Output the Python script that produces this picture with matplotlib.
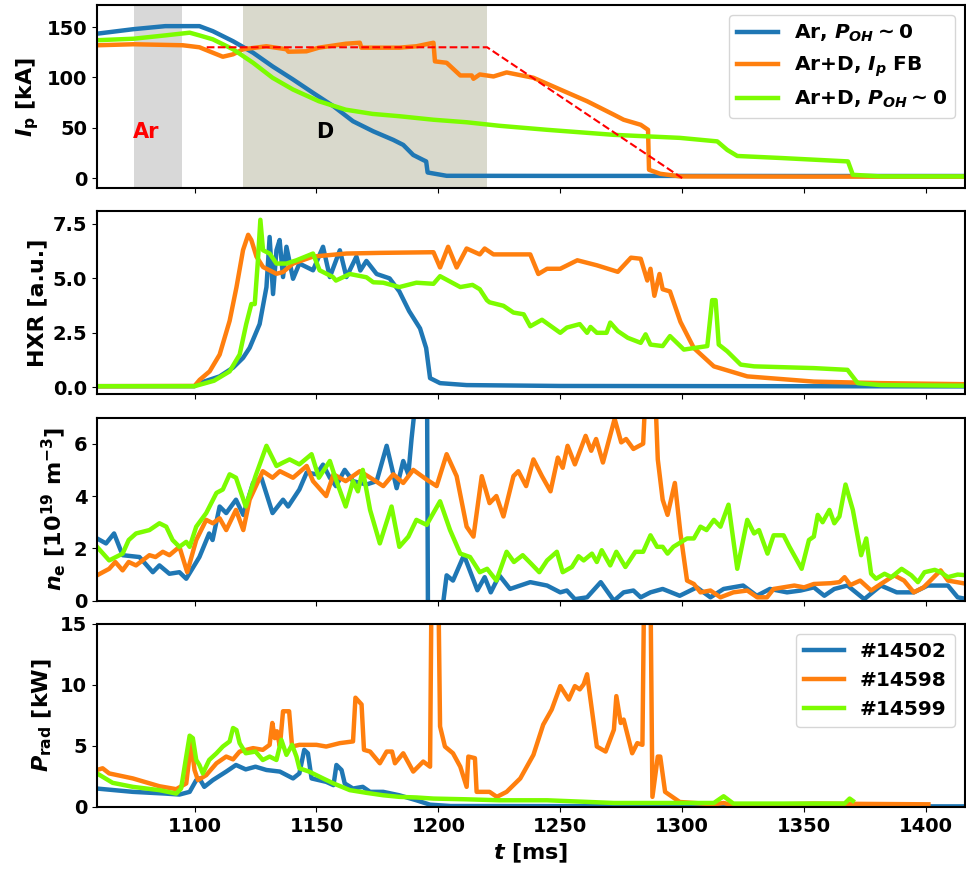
import numpy as np
import matplotlib
matplotlib.use("Agg")
import matplotlib.pyplot as plt

# shot numbers and legend labels
shots = ["#14502", "#14598", "#14599"]
scenario_labels = [r"Ar, $P_{OH}\sim0$", r"Ar+D, $I_p$ FB", r"Ar+D, $P_{OH}\sim0$"]
colors = ["#1f77b4", "#ff7f0e", "lawngreen"]

# gas puff windows [ms]
ar_puff = (1075, 1095)
d_puff = (1120, 1220)

# plasma current [kA], (t [ms], Ip)
ip_14502 = [(1060, 143.5), (1075, 148), (1088, 151), (1102, 151), (1107.5, 146), (1115.8, 136),
            (1124, 124.6), (1132, 111), (1140.4, 98), (1148.6, 84.7), (1157, 71.4), (1165, 56.5),
            (1173.3, 46.5), (1181.5, 38), (1185.6, 33), (1189.7, 23), (1193.8, 18), (1195, 16.6),
            (1195.6, 5.6), (1203.4, 2.3), (1250, 2.2), (1300, 2.2), (1350, 2.1), (1417, 2.1)]
ip_14598 = [(1060, 132), (1075, 133), (1095.2, 132), (1102, 130), (1107.5, 124.6), (1111.6, 120.6),
            (1115.8, 123), (1119.9, 128), (1129.5, 131), (1137.7, 128), (1138.5, 125.6), (1145.9, 126),
            (1151, 129.6), (1162, 133.5), (1167.8, 134.5), (1168.4, 129.6), (1184, 129.6), (1191, 131),
            (1198, 134.5), (1198.6, 116), (1203.4, 114.6), (1209, 102), (1213.7, 102), (1214.4, 98.7),
            (1217, 103), (1222.6, 101), (1228, 105), (1239, 99.7), (1250, 88), (1261, 76.4),
            (1272, 63), (1276, 58), (1283, 53), (1286, 48), (1286.4, 8.3), (1291, 4.3),
            (1299.3, 1.7), (1350, 1.5), (1417, 1.5)]
ip_14599 = [(1060, 137), (1075, 138.5), (1088, 141.8), (1098, 144.5), (1102, 141.8), (1107.5, 137.9),
            (1115.8, 128), (1124, 114.6), (1132, 99.7), (1140.4, 88), (1151, 76.4), (1162, 68),
            (1173, 63.8), (1184, 61.5), (1198, 58), (1211.6, 55.5), (1225, 52), (1244.6, 48),
            (1272, 43), (1299, 40), (1314.4, 36.5), (1318.5, 28), (1322.6, 22), (1340.4, 20),
            (1368, 16.6), (1370, 3.3), (1381.6, 1.7), (1417, 1.7)]
ip_request = [(1105, 130), (1220, 130), (1300, 0)]

# hard X-ray signal [a.u.]
hxr_14502 = [(1060, 0.05), (1100, 0.05), (1102, 0.19), (1110.3, 0.5), (1115.8, 0.9), (1119.9, 1.35),
             (1122.6, 1.81), (1126.7, 2.9), (1129.5, 4.6), (1130.8, 6.9), (1132.2, 4.28),
             (1133.6, 6.29), (1134.9, 6.76), (1136.3, 5.06), (1137.7, 6.45), (1140.4, 4.98),
             (1143, 5.68), (1148.6, 5.37), (1152.7, 6.45), (1155.5, 5.06), (1159.6, 6.29),
             (1162.3, 5.06), (1166.4, 6.0), (1168, 5.36), (1170.5, 5.8), (1174.7, 5.2), (1180, 5.0),
             (1184, 4.4), (1188, 3.5), (1192.5, 2.7), (1195, 1.8), (1196.6, 0.42), (1200.7, 0.19),
             (1211.6, 0.1), (1250, 0.06), (1417, 0.04)]
hxr_14598 = [(1060, 0.05), (1100, 0.06), (1102.1, 0.34), (1106.2, 0.73), (1110.3, 1.5), (1114.4, 3.05),
             (1117.2, 4.59), (1119.9, 6.3), (1122, 7.0), (1123.3, 6.76), (1125.4, 6.0), (1128.1, 5.52),
             (1133.6, 5.21), (1136.3, 5.29), (1140.4, 5.68), (1148.6, 6.0), (1162.3, 6.14),
             (1176, 6.17), (1198, 6.2), (1200.7, 5.5), (1204, 6.45), (1207.5, 5.5), (1211.6, 6.37),
             (1217, 6.1), (1219, 6.37), (1222.6, 6.1), (1237.7, 6.1), (1241, 5.2), (1244.6, 5.44),
             (1250, 5.44), (1257, 5.83), (1265, 5.6), (1273.6, 5.3), (1279, 5.95), (1283, 5.9),
             (1285.7, 4.9), (1287, 5.44), (1288.6, 4.2), (1290.7, 5.2), (1292, 4.5), (1295, 4.4),
             (1299.3, 3.0), (1304.8, 1.8), (1313, 0.96), (1326.7, 0.5), (1354, 0.26), (1381.6, 0.19),
             (1417, 0.14)]
hxr_14599 = [(1060, 0.05), (1100, 0.05), (1108, 0.3), (1114.4, 0.73), (1118.5, 1.5), (1121.2, 2.9),
             (1123.3, 3.82), (1124.7, 3.82), (1126, 5.83), (1127, 7.69), (1128.1, 6.29),
             (1130.8, 6.14), (1133.6, 5.68), (1137.7, 5.68), (1141.8, 5.83), (1148.6, 6.14),
             (1151.3, 5.37), (1156.8, 5.06), (1158, 4.9), (1163.7, 5.2), (1170.5, 5.05),
             (1173.3, 4.82), (1177.4, 4.8), (1184, 4.6), (1191, 4.8), (1198, 4.75), (1200.7, 5.1),
             (1209, 4.6), (1214, 4.7), (1217, 4.5), (1219.9, 4.0), (1221, 3.9), (1226.7, 3.74),
             (1230.8, 3.43), (1235, 3.35), (1237.7, 2.8), (1242.5, 3.1), (1250, 2.5), (1252.7, 2.74),
             (1258, 2.9), (1261, 2.5), (1262.4, 2.77), (1265, 2.5), (1269, 2.5), (1270.5, 2.97),
             (1273.6, 2.58), (1277.7, 2.27), (1283, 2.04), (1285, 2.43), (1287, 1.96), (1292, 1.89),
             (1295, 2.35), (1300.7, 1.73), (1304.8, 1.8), (1310.3, 1.89), (1312.3, 4.0),
             (1313.7, 4.0), (1315, 1.96), (1318.5, 1.65), (1324, 1.04), (1329.5, 0.96), (1354, 0.88),
             (1367.8, 0.8), (1372, 0.19), (1381.6, 0.1), (1417, 0.07)]

# line-averaged density [1e19 m^-3]
ne_14502 = [(1060, 2.38), (1063.7, 2.19), (1067, 2.57), (1070.5, 1.74), (1077.4, 1.67), (1082.9, 1.09),
            (1085.6, 1.35), (1089.7, 1.03), (1093.8, 1.09), (1096.6, 0.84), (1102, 1.67), (1106, 2.57),
            (1107.4, 2.32), (1110.3, 3.6), (1113, 3.35), (1117, 3.86), (1120, 3.28), (1124, 4.5),
            (1127.4, 4.7), (1132, 3.35), (1136.3, 3.86), (1138.4, 3.6), (1143, 4.25), (1146, 4.9),
            (1150, 4.83), (1152.7, 5.2), (1155.5, 4.7), (1158, 4.38), (1161.6, 5.0), (1165, 4.57),
            (1170.5, 4.44), (1174.7, 4.57), (1178.8, 5.92), (1182.9, 4.3), (1185.6, 5.34),
            (1187.7, 4.83), (1189, 6.18), (1190.5, 7.5), (1192, 15), (1194.6, 15), (1195.2, 12),
            (1195.8, -2), (1200, -3), (1201.4, -0.5), (1203.4, 0.97), (1206, 0.77), (1210.5, 1.74),
            (1216, 0.4), (1219, 0.9), (1221.5, 0.32), (1225, 0.97), (1229.4, 0.45), (1237.7, 0.71),
            (1244.6, 0.58), (1250, 0.32), (1252.7, 0.39), (1256, 0.06), (1261, 0.13), (1266.6, 0.71),
            (1272, 0.0), (1276, 0.32), (1280, 0.39), (1283, 0.13), (1287, 0.32), (1292, 0.45),
            (1299, 0.19), (1306, 0.51), (1311.6, 0.13), (1317, 0.45), (1325, 0.58), (1330.6, 0.19),
            (1336, 0.45), (1343, 0.32), (1348.6, 0.39), (1354, 0.51), (1358.3, 0.19), (1362.4, 0.45),
            (1367.8, 0.58), (1374.7, 0.06), (1381.5, 0.58), (1388, 0.32), (1395, 0.32),
            (1400.7, 0.58), (1409, 0.58), (1413, 0.13), (1417, 0.06)]
ne_14598 = [(1060, 0.97), (1065, 1.22), (1067.5, 1.48), (1070.5, 1.16), (1073, 1.48), (1076, 1.35),
            (1081.5, 1.74), (1084, 1.67), (1087, 1.87), (1089.7, 1.74), (1093.8, 2.06), (1097, 1.09),
            (1100.7, 2.32), (1104.8, 3.09), (1107.5, 2.96), (1110.3, 3.15), (1113, 2.7), (1117, 3.47),
            (1120, 2.7), (1122.6, 3.86), (1128, 4.95), (1132, 4.7), (1135, 4.95), (1140.4, 4.7),
            (1146, 5.15), (1148.6, 4.57), (1154, 4.0), (1157, 4.83), (1162, 4.57), (1167.8, 4.95),
            (1173.3, 4.63), (1177.4, 4.38), (1181.5, 4.83), (1185.6, 4.5), (1189.7, 5.0),
            (1195.2, 4.63), (1199.3, 4.38), (1203.4, 5.6), (1207.5, 4.76), (1211.6, 2.83),
            (1214.4, 2.45), (1217.8, 4.76), (1221, 3.73), (1223.8, 4.0), (1226.7, 3.22),
            (1230.8, 4.76), (1232.8, 4.95), (1236, 4.38), (1239, 5.4), (1242.5, 4.76), (1246, 4.18),
            (1249, 5.47), (1251, 5.08), (1253, 5.92), (1256, 5.21), (1260.4, 6.3), (1262.7, 5.73),
            (1264.7, 6.18), (1267.5, 5.28), (1272.3, 6.95), (1275, 6.05), (1277, 6.18), (1280, 5.8),
            (1284, 6.0), (1285.5, 9), (1288.5, 9), (1290, 5.4), (1292, 3.86), (1294, 3.28),
            (1297, 4.5), (1299.3, 2.57), (1302, 0.77), (1304.8, 0.64), (1307.5, 0.32), (1311.6, 0.39),
            (1315.7, 0.13), (1321, 0.32), (1326.7, 0.39), (1330.8, 0.13), (1334.8, 0.13),
            (1337.5, 0.45), (1346, 0.58), (1350, 0.51), (1354, 0.64), (1361, 0.67), (1364.5, 0.71),
            (1366.6, 0.9), (1369, 0.6), (1373, 0.77), (1377.5, 0.39), (1381.5, 0.64), (1387, 0.97),
            (1391, 0.77), (1395, 0.32), (1399, 0.51), (1406, 1.16), (1409, 0.77), (1417, 0.64)]
ne_14599 = [(1060, 2.06), (1065, 1.54), (1070.5, 1.8), (1073, 2.32), (1076, 2.57), (1081.5, 2.7),
            (1085.6, 2.96), (1088.4, 2.83), (1091, 2.32), (1093.8, 2.06), (1096.6, 2.25), (1098, 2.06),
            (1100.7, 2.83), (1104.8, 3.35), (1109, 4.12), (1111.6, 4.25), (1114.4, 4.83), (1117, 4.7),
            (1121, 3.6), (1125, 4.76), (1129.5, 5.92), (1133.6, 5.15), (1136.3, 5.28), (1139, 5.4),
            (1143, 5.21), (1148, 5.6), (1151, 4.7), (1155.5, 5.34), (1158, 4.63), (1162, 3.6),
            (1165, 4.57), (1167, 4.18), (1169, 5.0), (1172, 3.47), (1176, 2.19), (1180.8, 3.6),
            (1184, 2.06), (1187.7, 2.45), (1191, 3.09), (1195.2, 2.9), (1200.7, 3.8), (1204.8, 2.7),
            (1209, 1.8), (1213, 1.67), (1217, 1.09), (1220, 1.22), (1223.8, 0.77), (1228, 1.87),
            (1231, 1.48), (1234.6, 1.74), (1238, 1.42), (1241.4, 1.09), (1244.6, 1.54), (1248.6, 1.87),
            (1251, 1.09), (1254.8, 1.29), (1257.5, 1.7), (1259.6, 1.54), (1263, 1.8), (1265, 1.48),
            (1267, 1.93), (1270.5, 1.35), (1273, 1.87), (1276.7, 1.29), (1280.8, 1.87), (1284, 1.87),
            (1287, 2.5), (1289.7, 2.06), (1292, 2.06), (1294, 1.8), (1296.4, 2.06), (1302, 2.38),
            (1304.8, 2.38), (1307.5, 2.83), (1310, 2.7), (1313, 3.09), (1315.7, 2.83), (1319, 3.67),
            (1322.6, 1.22), (1326.7, 3.09), (1329.5, 2.57), (1331.5, 2.7), (1335, 1.8), (1337.5, 2.5),
            (1341.6, 2.5), (1344, 2.06), (1349, 1.22), (1352, 2.32), (1354, 2.45), (1355.6, 3.28),
            (1357.6, 3.0), (1360.4, 3.47), (1362.4, 2.96), (1364.5, 3.22), (1367, 4.44), (1370, 3.47),
            (1372, 2.45), (1373.4, 1.74), (1375.5, 2.38), (1377.5, 1.03), (1379.5, 0.84), (1383, 1.03),
            (1385.8, 0.9), (1390, 1.22), (1394, 0.97), (1396.7, 0.71), (1399.4, 1.09), (1403.6, 1.18),
            (1406, 1.09), (1409, 0.9), (1413, 1.0), (1417, 0.97)]

# radiated power [kW]
prad_14502 = [(1060, 1.51), (1074.7, 1.24), (1088, 1.1), (1093.8, 1.02), (1098, 1.24), (1100.7, 2.2),
              (1102, 2.34), (1104, 1.65), (1107.5, 2.2), (1113, 2.9), (1117, 3.44), (1121, 3.08),
              (1125, 3.3), (1129.5, 3.03), (1135, 2.9), (1140.4, 2.34), (1143, 2.75), (1145, 4.68),
              (1146.5, 4.4), (1148, 2.34), (1154, 2.06), (1157, 1.79), (1158.2, 3.44), (1160.3, 3.03),
              (1161.6, 1.93), (1165, 1.51), (1169, 1.65), (1172, 1.24), (1177.4, 1.24), (1184, 0.96),
              (1191, 0.55), (1196.6, 0.19), (1205, 0.08), (1417, 0.05)]
prad_14598 = [(1060, 3.03), (1062.3, 3.17), (1065, 2.75), (1074.7, 2.34), (1085.6, 1.7), (1092.5, 1.46),
              (1096.6, 1.93), (1098.6, 5.23), (1100, 3.03), (1101.4, 2.2), (1104.8, 2.61), (1109, 3.58),
              (1113, 4.13), (1115.8, 3.9), (1118.5, 4.54), (1124, 4.82), (1128, 4.68), (1130.8, 5.09),
              (1131.9, 6.88), (1132.9, 5.64), (1133.8, 6.2), (1135, 4.95), (1136.3, 7.84),
              (1138.8, 7.84), (1140, 4.95), (1143, 5.09), (1150, 5.09), (1154, 4.95), (1159.6, 5.23),
              (1165, 5.37), (1166, 8.95), (1168.5, 8.4), (1169.5, 4.68), (1172, 4.54), (1176, 3.58),
              (1178.8, 4.54), (1181, 4.54), (1182.2, 3.58), (1185.6, 4.4), (1189.7, 2.9),
              (1193.8, 3.72), (1196.6, 3.3), (1197.2, 18), (1200, 18), (1200.7, 6.6), (1202.7, 4.95),
              (1206, 4.4), (1209, 3.3), (1211.6, 1.65), (1212.3, 4.13), (1215, 4.0), (1215.7, 1.24),
              (1221, 1.24), (1224, 0.83), (1228, 1.24), (1233.6, 2.34), (1239, 4.27), (1243, 6.74),
              (1246.5, 7.98), (1250, 9.9), (1253.5, 8.8), (1256, 9.9), (1258, 9.63), (1259.6, 10.05),
              (1261, 10.87), (1262.4, 8.8), (1265, 4.95), (1268.6, 4.54), (1272, 6.33), (1273, 9.08),
              (1274.8, 6.88), (1276, 7.16), (1279.5, 4.4), (1281.6, 5.23), (1283.7, 5.09),
              (1284.4, 18), (1287, 18), (1287.8, 0.83), (1290, 4.13), (1291, 4.13), (1293, 1.24),
              (1299, 0.41), (1313, 0.22), (1317, 0.33), (1321, 0.14), (1354, 0.28), (1401, 0.22)]
prad_14599 = [(1060, 2.75), (1066.4, 1.98), (1074.7, 1.65), (1085.6, 1.38), (1092.5, 1.1), (1094.5, 1.51),
              (1096.6, 4.13), (1098, 5.84), (1099.3, 5.64), (1100.7, 3.85), (1102, 3.44), (1103.4, 2.75),
              (1106, 3.85), (1109, 4.4), (1111.6, 4.95), (1114.4, 5.37), (1115.8, 6.47), (1117.2, 6.3),
              (1118.5, 5.23), (1121, 4.4), (1125, 4.54), (1128, 3.85), (1130.8, 4.13), (1133.6, 3.85),
              (1135.6, 5.5), (1137.7, 4.27), (1140, 5.09), (1141.8, 4.13), (1143, 3.17), (1147, 2.9),
              (1152.7, 2.34), (1157, 1.93), (1163.7, 1.38), (1170.5, 1.16), (1177.4, 0.96),
              (1184, 0.83), (1191, 0.78), (1198, 0.69), (1211.6, 0.63), (1225, 0.55), (1244.6, 0.55),
              (1272, 0.33), (1313, 0.33), (1317, 0.88), (1321, 0.28), (1366.6, 0.28), (1368.7, 0.69),
              (1370, 0.5)]

plt.rcParams.update({
    "font.family": "DejaVu Sans",
    "font.weight": "bold",
    "axes.labelweight": "bold",
    "font.size": 14,
    "mathtext.fontset": "custom",
    "mathtext.rm": "DejaVu Sans:bold",
    "mathtext.it": "DejaVu Sans:italic:bold",
    "mathtext.bf": "DejaVu Sans:bold",
    "axes.linewidth": 1.5,
})


def xy(pairs):
    arr = np.array(pairs, dtype=float)
    return arr[:, 0], arr[:, 1]


fig, axes = plt.subplots(4, 1, sharex=True, figsize=(9.66, 8.69), dpi=100)
fig.subplots_adjust(left=97 / 966, right=965 / 966, top=1 - 5 / 869, bottom=1 - 807 / 869,
                    hspace=0.126)
lw = 3.2

# --- Ip
ax = axes[0]
ax.axvspan(*ar_puff, color="#d8d8d8", lw=0, zorder=0)
ax.axvspan(*d_puff, color="#d9d9cc", lw=0, zorder=0)
for data, c, lab in zip([ip_14502, ip_14598, ip_14599], colors, scenario_labels):
    t, y = xy(data)
    ax.plot(t, y, color=c, lw=lw, label=lab)
t, y = xy(ip_request)
ax.plot(t, y, "--", color="red", lw=1.5)
ax.text(1080, 46, "Ar", color="red", fontsize=15, ha="center", va="center", fontweight="bold")
ax.text(1153.5, 46, "D", color="black", fontsize=15, ha="center", va="center", fontweight="bold")
ax.set_ylim(-10, 172)
ax.set_yticks([0, 50, 100, 150])
ax.set_ylabel(r"$I_\mathrm{p}$ [kA]", fontsize=16)
ax.legend(loc="upper right", fontsize=14.5)

# --- HXR
ax = axes[1]
for data, c in zip([hxr_14502, hxr_14598, hxr_14599], colors):
    t, y = xy(data)
    ax.plot(t, y, color=c, lw=lw)
ax.set_ylim(-0.33, 8.08)
ax.set_yticks([0, 2.5, 5.0, 7.5])
ax.set_ylabel("HXR [a.u.]", fontsize=16)

# --- ne
ax = axes[2]
for data, c in zip([ne_14502, ne_14598, ne_14599], colors):
    t, y = xy(data)
    ax.plot(t, y, color=c, lw=lw)
ax.set_ylim(0, 7)
ax.set_yticks([0, 2, 4, 6])
ax.set_ylabel(r"$n_\mathrm{e}$ [$10^{19}$ m$^{-3}$]", fontsize=16)

# --- Prad
ax = axes[3]
for data, c, lab in zip([prad_14502, prad_14598, prad_14599], colors, shots):
    t, y = xy(data)
    ax.plot(t, y, color=c, lw=lw, label=lab)
ax.set_ylim(0, 15)
ax.set_yticks([0, 5, 10, 15])
ax.set_ylabel(r"$P_\mathrm{rad}$ [kW]", fontsize=16)
ax.legend(loc="upper right", fontsize=14.5)
ax.set_xlabel(r"$t$ [ms]", fontsize=16)

ax.set_xlim(1060, 1416)
ax.set_xticks([1100, 1150, 1200, 1250, 1300, 1350, 1400])

fig.savefig("out.png", dpi=100)
